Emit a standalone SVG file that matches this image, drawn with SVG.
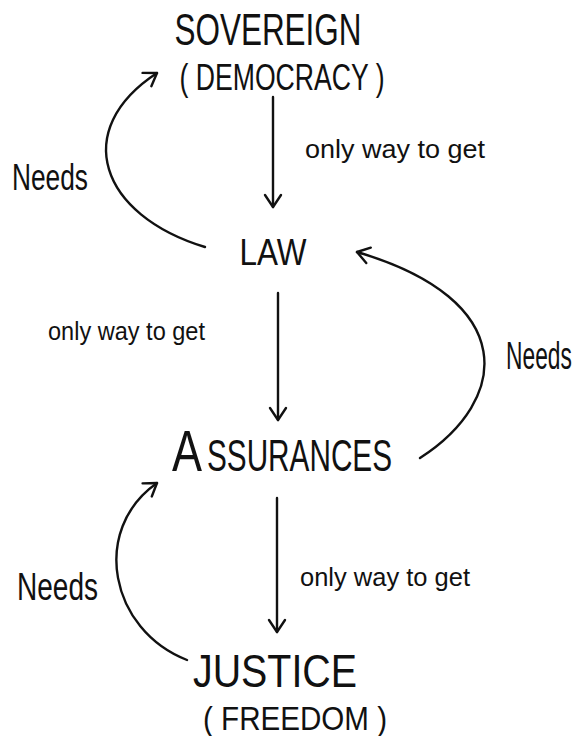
<svg xmlns="http://www.w3.org/2000/svg" width="584" height="736" viewBox="0 0 584 736">
<style>
  .t { font-family: "Liberation Sans", Arial, sans-serif; fill: #111; }
  .c { fill: none; stroke: #111; stroke-width: 2.4; stroke-linecap: round; }
</style>
<defs>
  <marker id="ah" markerUnits="userSpaceOnUse" viewBox="-14 -10 16 20" refX="0" refY="0" markerWidth="16" markerHeight="20" orient="auto" overflow="visible">
    <path d="M -12 -8 L 0 0 L -12 8" fill="none" stroke="#111" stroke-width="2.4" stroke-linecap="round" stroke-linejoin="round"/>
  </marker>
</defs>
<rect width="584" height="736" fill="#fff"/>

<g id="sovereign">
  <text class="t" x="268" y="45" font-size="44" text-anchor="middle" textLength="187" lengthAdjust="spacingAndGlyphs">SOVEREIGN</text>
  <text class="t" x="282" y="90" font-size="36" text-anchor="middle" textLength="205" lengthAdjust="spacingAndGlyphs">( DEMOCRACY )</text>
</g>
<g id="law">
  <text class="t" x="273" y="265" font-size="36" text-anchor="middle" textLength="67" lengthAdjust="spacingAndGlyphs">LAW</text>
</g>
<g id="assurances">
  <text class="t" y="471"><tspan x="172" font-size="58" textLength="30" lengthAdjust="spacingAndGlyphs">A</tspan><tspan x="207" font-size="44" textLength="185" lengthAdjust="spacingAndGlyphs">SSURANCES</tspan></text>
</g>
<g id="justice">
  <text class="t" x="275" y="687" font-size="46" text-anchor="middle" textLength="164" lengthAdjust="spacingAndGlyphs">JUSTICE</text>
  <text class="t" x="295" y="730" font-size="34" text-anchor="middle" textLength="184" lengthAdjust="spacingAndGlyphs">( FREEDOM )</text>
</g>

<g id="connectors">
  <path class="c" d="M 273 97 L 273 207" marker-end="url(#ah)"/>
  <path class="c" d="M 278 293 L 278 420" marker-end="url(#ah)"/>
  <path class="c" d="M 277 498 L 277 632" marker-end="url(#ah)"/>
  <path class="c" d="M 205 247 C 100 215, 70 130, 157 73" marker-end="url(#ah)"/>
  <path class="c" d="M 420 458 C 510 400, 520 300, 357 252" marker-end="url(#ah)"/>
  <path class="c" d="M 187 660 C 110 630, 90 530, 157 483" marker-end="url(#ah)"/>
</g>

<g id="labels">
  <text class="t" x="305" y="158" font-size="26" textLength="180" lengthAdjust="spacingAndGlyphs">only way to get</text>
  <text class="t" x="48" y="340" font-size="26" textLength="157" lengthAdjust="spacingAndGlyphs">only way to get</text>
  <text class="t" x="300" y="586" font-size="26" textLength="170" lengthAdjust="spacingAndGlyphs">only way to get</text>
  <text class="t" x="12" y="190" font-size="36" textLength="76" lengthAdjust="spacingAndGlyphs">Needs</text>
  <text class="t" transform="translate(506 369) scale(0.6 1)" x="0" y="0" font-size="38">Needs</text>
  <text class="t" x="17" y="600" font-size="38" textLength="81" lengthAdjust="spacingAndGlyphs">Needs</text>
</g>
</svg>
